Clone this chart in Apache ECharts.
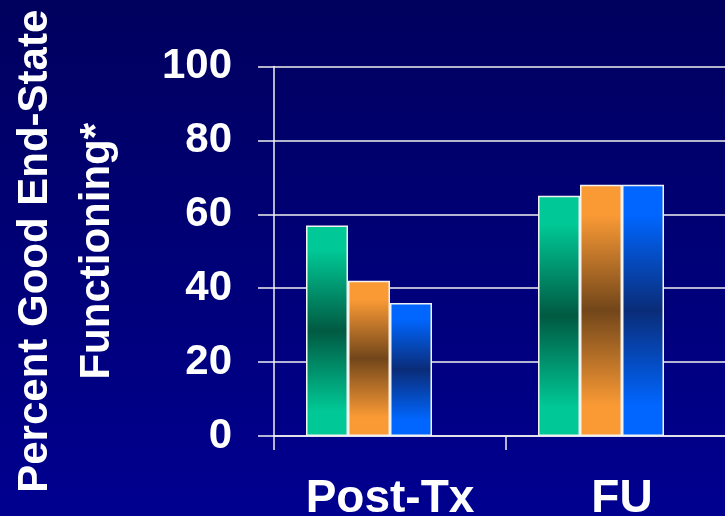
<!DOCTYPE html>
<html>
<head>
<meta charset="utf-8">
<script src="https://cdn.jsdelivr.net/npm/echarts@6/dist/echarts.min.js"></script>
<style>
  html, body { margin: 0; padding: 0; background: #000070; }
  #chart { width: 725px; height: 516px; }
</style>
</head>
<body>
<div id="chart"></div>
<script>
// Categories and values (percent with good end-state functioning)
const categories = ['Post-Tx', 'FU'];
const groupA = [57, 65];
const groupB = [42, 68];
const groupC = [36, 68];
// Fourth slot in each cluster is left empty
const emptySlot = [null, null];

const yTicks = { min: 0, max: 100, interval: 20 };
const yTitle = 'Percent Good End-State\nFunctioning*';

const FONT = '"Liberation Sans", Arial, Helvetica, sans-serif';

// Vertical gradient: bright at the ends, dark in the middle
function band(bright, dark) {
  return new echarts.graphic.LinearGradient(0, 0, 0, 1, [
    { offset: 0, color: bright },
    { offset: 0.12, color: bright },
    { offset: 0.5, color: dark },
    { offset: 0.88, color: bright },
    { offset: 1, color: bright }
  ]);
}

function barSeries(name, data, bright, dark) {
  return {
    name: name,
    type: 'bar',
    data: data,
    barWidth: 42,
    barGap: '0%',
    itemStyle: {
      color: band(bright, dark),
      borderColor: '#f2f2f2',
      borderWidth: 1.5
    }
  };
}

const chart = echarts.init(document.getElementById('chart'), null, { renderer: 'canvas' });

chart.setOption({
  backgroundColor: new echarts.graphic.LinearGradient(0, 0, 0, 1, [
    { offset: 0, color: '#00005e' },
    { offset: 1, color: '#000090' }
  ]),
  animation: false,
  grid: {
    left: 274, right: -13, top: 66.5, bottom: 80,
    containLabel: false, outerBoundsMode: 'none'
  },
  xAxis: {
    type: 'category',
    data: categories,
    axisLine: { show: true, lineStyle: { color: '#f0f0f0', width: 1.5 } },
    axisTick: { show: true, length: 14, lineStyle: { color: '#f0f0f0', width: 1.5 } },
    axisLabel: {
      color: '#ffffff', fontSize: 46, fontWeight: 'bold', fontFamily: FONT, margin: 40
    },
    splitLine: { show: false }
  },
  yAxis: {
    type: 'value',
    min: yTicks.min,
    max: yTicks.max,
    interval: yTicks.interval,
    name: yTitle,
    nameLocation: 'middle',
    nameGap: 146,
    nameTextStyle: {
      color: '#ffffff', fontSize: 42, fontWeight: 'bold', fontFamily: FONT,
      lineHeight: 62, align: 'center'
    },
    axisLine: { show: true, lineStyle: { color: '#f0f0f0', width: 1.5 } },
    axisTick: { show: true, length: 16, lineStyle: { color: '#f0f0f0', width: 1.5 } },
    axisLabel: {
      color: '#ffffff', fontSize: 42, fontWeight: 'bold', fontFamily: FONT, margin: 42
    },
    splitLine: { show: true, lineStyle: { color: '#f0f0f0', width: 1.5 } }
  },
  series: [
    barSeries('A', groupA, '#00c896', '#005a42'),
    barSeries('B', groupB, '#fa9a35', '#72461a'),
    barSeries('C', groupC, '#0066ff', '#0a2c78'),
    barSeries('D', emptySlot, '#000080', '#000080')
  ]
});
</script>
</body>
</html>
